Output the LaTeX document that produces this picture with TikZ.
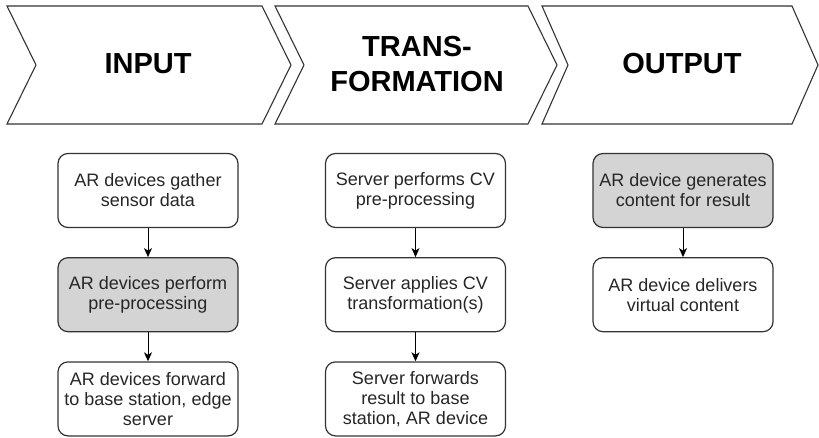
\documentclass[tikz,border=0pt]{standalone}
\usepackage{fontspec}
\setmainfont{Liberation Sans}
\usetikzlibrary{positioning, arrows.meta}
\definecolor{boxgray}{HTML}{D4D4D4}
\definecolor{edgegray}{HTML}{333333}

\begin{document}
\begin{tikzpicture}[x=1pt, y=-1pt, >={Stealth[length=9pt,width=8pt,inset=2.5pt]},
                node distance=29pt, line width=1pt,
                stage/.style={font=\fontsize{29}{35}\selectfont\bfseries, align=center},
                task/.style={draw=edgegray, line width=1.2pt, rounded corners=10pt,
                    minimum width=180pt, minimum height=74pt, inner sep=0pt,
                    align=center, text=black!85, font=\fontsize{18}{20}\selectfont},
                done/.style={task, fill=boxgray}]

                \useasboundingbox (0,0) rectangle (819,438);

                % the three stage arrows
                \foreach \x/\w/\d in {7/255/29, 275/253/29, 542/250/26}
                    \draw[edgegray, line width=1.1pt] (\x,6) -- ++(\w,0) -- ++(\d,59)
                        -- ++(-\d,59) -- ++(-\w,0) -- ++(\d,-59) -- cycle;

                \node[stage] (input) at (148,64) {INPUT};
                \node[stage] (transf) at (417,64) {TRANS-\\FORMATION};
                \node[stage] (output) at (682,64) {OUTPUT};

                % input column
                \node[task] (gather) at (148,190.5) {AR devices gather\\sensor data};
                \node[done, below=of gather] (prep) {AR devices perform\\pre-processing};
                \node[task, below=of prep] (fwd) {AR devices forward\\to base station, edge\\server};

                % transformation column
                \node[task] (cvprep) at (415.5,190.5) {Server performs CV\\pre-processing};
                \node[task, below=of cvprep] (cvapply) {Server applies CV\\transformation(s)};
                \node[task, below=of cvapply] (result) {Server forwards\\result to base\\station, AR device};

                % output column
                \node[done] (gen) at (683,190.5) {AR device generates\\content for result};
                \node[task, below=of gen] (deliver) {AR device delivers\\virtual content};

                \path[->]
                (gather) edge (prep)
                (prep) edge (fwd)
                (cvprep) edge (cvapply)
                (cvapply) edge (result)
                (gen) edge (deliver);

\end{tikzpicture}
\end{document}
